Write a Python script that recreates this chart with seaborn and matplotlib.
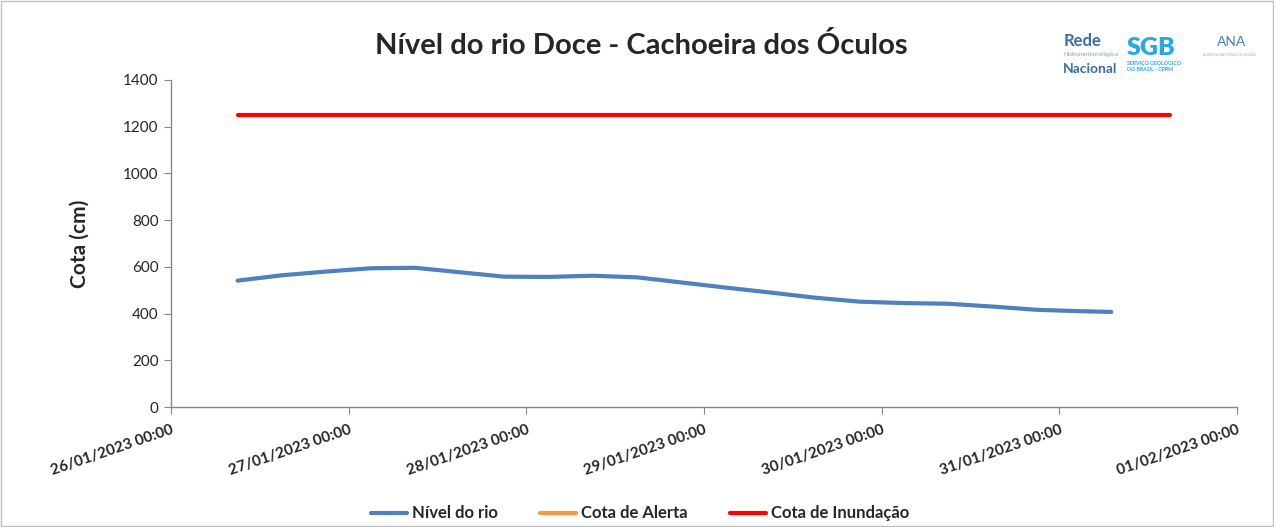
import pandas as pd
import matplotlib.pyplot as plt
import seaborn as sns

# river level readings (cm)
nivel_times = ['26/01/2023 09:00', '26/01/2023 15:00', '26/01/2023 21:00',
               '27/01/2023 03:00', '27/01/2023 09:00', '27/01/2023 15:00', '27/01/2023 21:00',
               '28/01/2023 03:00', '28/01/2023 09:00', '28/01/2023 15:00', '28/01/2023 21:00',
               '29/01/2023 03:00', '29/01/2023 09:00', '29/01/2023 15:00', '29/01/2023 21:00',
               '30/01/2023 03:00', '30/01/2023 09:00', '30/01/2023 15:00', '30/01/2023 21:00',
               '31/01/2023 03:00', '31/01/2023 07:00']
nivel_vals = [541, 564, 580, 594, 596, 577, 558, 557, 562, 555, 533,
              511, 490, 468, 451, 445, 442, 430, 416, 410, 407]

inund_times = ['26/01/2023 09:00', '31/01/2023 15:00']
inund_vals = [1250, 1250]

xtick_labels = ['26/01/2023 00:00', '27/01/2023 00:00', '28/01/2023 00:00', '29/01/2023 00:00',
                '30/01/2023 00:00', '31/01/2023 00:00', '01/02/2023 00:00']

fmt = '%d/%m/%Y %H:%M'
nivel = pd.DataFrame({'t': pd.to_datetime(nivel_times, format=fmt), 'cota': nivel_vals})
inund = pd.DataFrame({'t': pd.to_datetime(inund_times, format=fmt), 'cota': inund_vals})
xticks = pd.to_datetime(xtick_labels, format=fmt)

sns.set_style('white')
plt.rcParams['font.family'] = ['Lato', 'DejaVu Sans']

fig = plt.figure(figsize=(12.74, 5.27), dpi=100)
ax = fig.add_axes([0.1342, 0.2277, 0.8368, 0.6205])

sns.lineplot(data=nivel, x='t', y='cota', ax=ax, color='#4F81BD', linewidth=3, label='Nível do rio')
ax.plot([], [], color='#F79646', linewidth=3, label='Cota de Alerta')
sns.lineplot(data=inund, x='t', y='cota', ax=ax, color='#FF0000', linewidth=3, label='Cota de Inundação')

ax.set_xlim(xticks[0], xticks[-1])
ax.set_ylim(0, 1400)
ax.set_yticks(range(0, 1401, 200))
ax.set_xticks(xticks)
ax.set_xticklabels(xtick_labels, rotation=19, ha='right', rotation_mode='anchor',
                   fontweight='bold', fontsize=11)
ax.tick_params(axis='y', labelsize=11, length=5, direction='out', color='#868686', left=True, pad=4)
ax.tick_params(axis='x', length=5, direction='out', color='#868686', bottom=True, pad=6)

for s in ['top', 'right']:
    ax.spines[s].set_visible(False)
for s in ['left', 'bottom']:
    ax.spines[s].set_color('#868686')
    ax.spines[s].set_linewidth(1)

ax.set_xlabel('')
ax.set_ylabel('Cota (cm)', fontsize=15, fontweight='bold', labelpad=24)

fig.suptitle('Nível do rio Doce - Cachoeira dos Óculos', x=0.503, y=0.94,
             fontsize=21, fontweight='bold')

ax.legend(loc='upper center', bbox_to_anchor=(0.44, -0.255), ncol=3, frameon=False,
          prop={'weight': 'bold', 'size': 12}, handlelength=2.2, columnspacing=2.5, handletextpad=0.3)

# logos as plain text
fig.text(0.8345, 0.913, 'Rede', color='#3A6E9E', fontsize=12, fontweight='bold')
fig.text(0.8345, 0.893, 'Hidrometeorológica', color='#6FA8D6', fontsize=4.5)
fig.text(0.8345, 0.862, 'Nacional', color='#3A6E9E', fontsize=10, fontweight='bold')
fig.text(0.884, 0.895, 'SGB', color='#2AA8E0', fontsize=18, fontweight='heavy')
fig.text(0.8845, 0.866, 'SERVIÇO GEOLÓGICO\nDO BRASIL - CPRM', color='#2AA8E0', fontsize=3.8,
         fontweight='bold', linespacing=1.2)
fig.text(0.9555, 0.912, 'ANA', color='#4A7FB0', fontsize=10)
fig.text(0.9445, 0.893, 'AGÊNCIA NACIONAL DE ÁGUAS', color='#8FB3D3', fontsize=2.5)

fig.patches.append(plt.Rectangle((0.001, 0.001), 0.998, 0.998, transform=fig.transFigure,
                                 fill=False, edgecolor='#BFBFBF', linewidth=1))

fig.savefig('out.png', dpi=100)
